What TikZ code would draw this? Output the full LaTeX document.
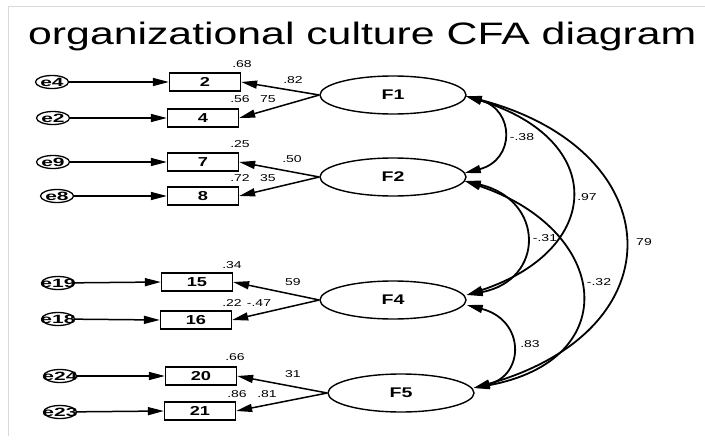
\documentclass[tikz,border=0pt]{standalone}
\usepackage{fontspec}
\setmainfont{Liberation Sans}
\usetikzlibrary{arrows.meta,shapes.geometric,calc}
\newcommand{\wide}[1]{\scalebox{1.4}[1]{#1}}
\newcommand{\wider}[1]{\scalebox{1.75}[1]{#1}}
\begin{document}
\begin{tikzpicture}[x=1pt,y=-1pt,
  err/.style={ellipse, draw, line width=1.3pt, minimum width=33pt, minimum height=13pt, inner sep=0pt,
    label={[font=\fontsize{12}{12}\selectfont\bfseries, inner sep=0pt]center:\wider{#1}}},
  obs/.style={rectangle, draw, line width=1.3pt, minimum width=71pt, minimum height=18pt, inner sep=0pt,
    font=\fontsize{13}{13}\selectfont\bfseries},
  lat/.style={ellipse, draw, line width=1.4pt, minimum width=146pt, minimum height=38pt, inner sep=0pt,
    font=\fontsize{14}{14}\selectfont\bfseries},
  lbl/.style={font=\fontsize{10}{10}\selectfont, inner sep=0pt},
  arr/.style={line width=1.5pt, -{Triangle[length=16pt,width=8pt]}},
  cov/.style={line width=1.8pt, {Triangle[length=16pt,width=8pt]}-{Triangle[length=16pt,width=8pt]}},
  frame/.style={draw=black!15, line width=1pt}
]
\useasboundingbox (0,0) rectangle (705,442);
\draw[frame] (8,436) -- (8,6) -- (705,6);
\node[anchor=base west, inner sep=0pt, font=\fontsize{31}{31}\selectfont] (title) at (28,44)
  {\scalebox{1.38}[1]{organizational culture CFA diagram}};

% error terms
\node[err=e4]  (e4)  at (52,82)  {};
\node[err=e2]  (e2)  at (53,118) {};
\node[err=e9]  (e9)  at (53,162) {};
\node[err=e8]  (e8)  at (57,196) {};
\node[err=e19] (e19) at (58,283) {};
\node[err=e18] (e18) at (58,319) {};
\node[err=e24] (e24) at (60,376) {};
\node[err=e23] (e23) at (60,412) {};

% observed variables
\node[obs] (v2)  at (205,82)  {\wide{2}};
\node[obs] (v4)  at (203,118) {\wide{4}};
\node[obs] (v7)  at (203,162) {\wide{7}};
\node[obs] (v8)  at (203,196) {\wide{8}};
\node[obs] (v15) at (197,282) {\wide{15}};
\node[obs] (v16) at (196,320) {\wide{16}};
\node[obs] (v20) at (201,376) {\wide{20}};
\node[obs] (v21) at (200,411) {\wide{21}};

% latent factors
\node[lat] (F1) at (393,95)  {\wide{F1}};
\node[lat] (F2) at (393,177) {\wide{F2}};
\node[lat] (F4) at (393,300) {\wide{F4}};
\node[lat] (F5) at (401,393) {\wide{F5}};

% error arrows
\foreach \e/\v in {e4/v2,e2/v4,e9/v7,e8/v8,e19/v15,e18/v16,e24/v20,e23/v21}
  \draw[arr] (\e) -- (\v.west);

% loadings
\draw[arr] (F1.west) -- (v2.east);
\draw[arr] (F1.west) -- (v4.east);
\draw[arr] (F2.west) -- (v7.east);
\draw[arr] (F2.west) -- (v8.east);
\draw[arr] (F4.west) -- (v15.east);
\draw[arr] (F4.west) -- (v16.east);
\draw[arr] (F5.west) -- (v20.east);
\draw[arr] (F5.west) -- (v21.east);

% covariance end points
\coordinate (F1c) at ($(F1.east)+(-1,1)$);
\coordinate (F2in) at ($(F2.east)+(-2,-4)$);
\coordinate (F2out) at ($(F2.east)+(-2,4)$);
\coordinate (F4in) at ($(F4.east)+(0,-5)$);
\coordinate (F4out) at ($(F4.east)+(0,5)$);
\coordinate (F5in) at ($(F5.east)+(-1,-5)$);

\draw[cov] (F1c) .. controls (515,110) and (515,160) .. (F2in);
\draw[cov] (F1c) .. controls (608,140) and (603,250) .. (F4in);
\draw[cov] (F1c) .. controls (670,150) and (680,330) .. (F5in);
\draw[cov] (F2out) .. controls (545,200) and (545,280) .. (F4in);
\draw[cov] (F2out) .. controls (610,230) and (625,360) .. (F5in);
\draw[cov] (F4out) .. controls (525,320) and (525,375) .. (F5in);

% labels
\node[lbl] (l68)  at (242,64)  {\wide{.68}};
\node[lbl] (l82)  at (293,80)  {\wide{.82}};
\node[lbl] (l56)  at (240,99)  {\wide{.56}};
\node[lbl] (l75)  at (268,99)  {\wide{75}};
\node[lbl] (l25)  at (240,144) {\wide{.25}};
\node[lbl] (l50)  at (292,159) {\wide{.50}};
\node[lbl] (l72)  at (240,178) {\wide{.72}};
\node[lbl] (l35)  at (268,178) {\wide{35}};
\node[lbl] (l34)  at (232,265) {\wide{.34}};
\node[lbl] (l59)  at (293,282) {\wide{59}};
\node[lbl] (l22)  at (232,303) {\wide{.22}};
\node[lbl] (l47)  at (259,303) {\wide{-.47}};
\node[lbl] (l66)  at (235,357) {\wide{.66}};
\node[lbl] (l31)  at (293,374) {\wide{31}};
\node[lbl] (l86)  at (237,394) {\wide{.86}};
\node[lbl] (l81)  at (267,394) {\wide{.81}};

\node[lbl] (c38) at (522,137) {\wide{-.38}};
\node[lbl] (c97) at (587,197) {\wide{.97}};
\node[lbl] (c31) at (545,238) {\wide{-.31}};
\node[lbl] (c79) at (644,242) {\wide{79}};
\node[lbl] (c32) at (599,282) {\wide{-.32}};
\node[lbl] (c83) at (530,344) {\wide{.83}};
\end{tikzpicture}
\end{document}
